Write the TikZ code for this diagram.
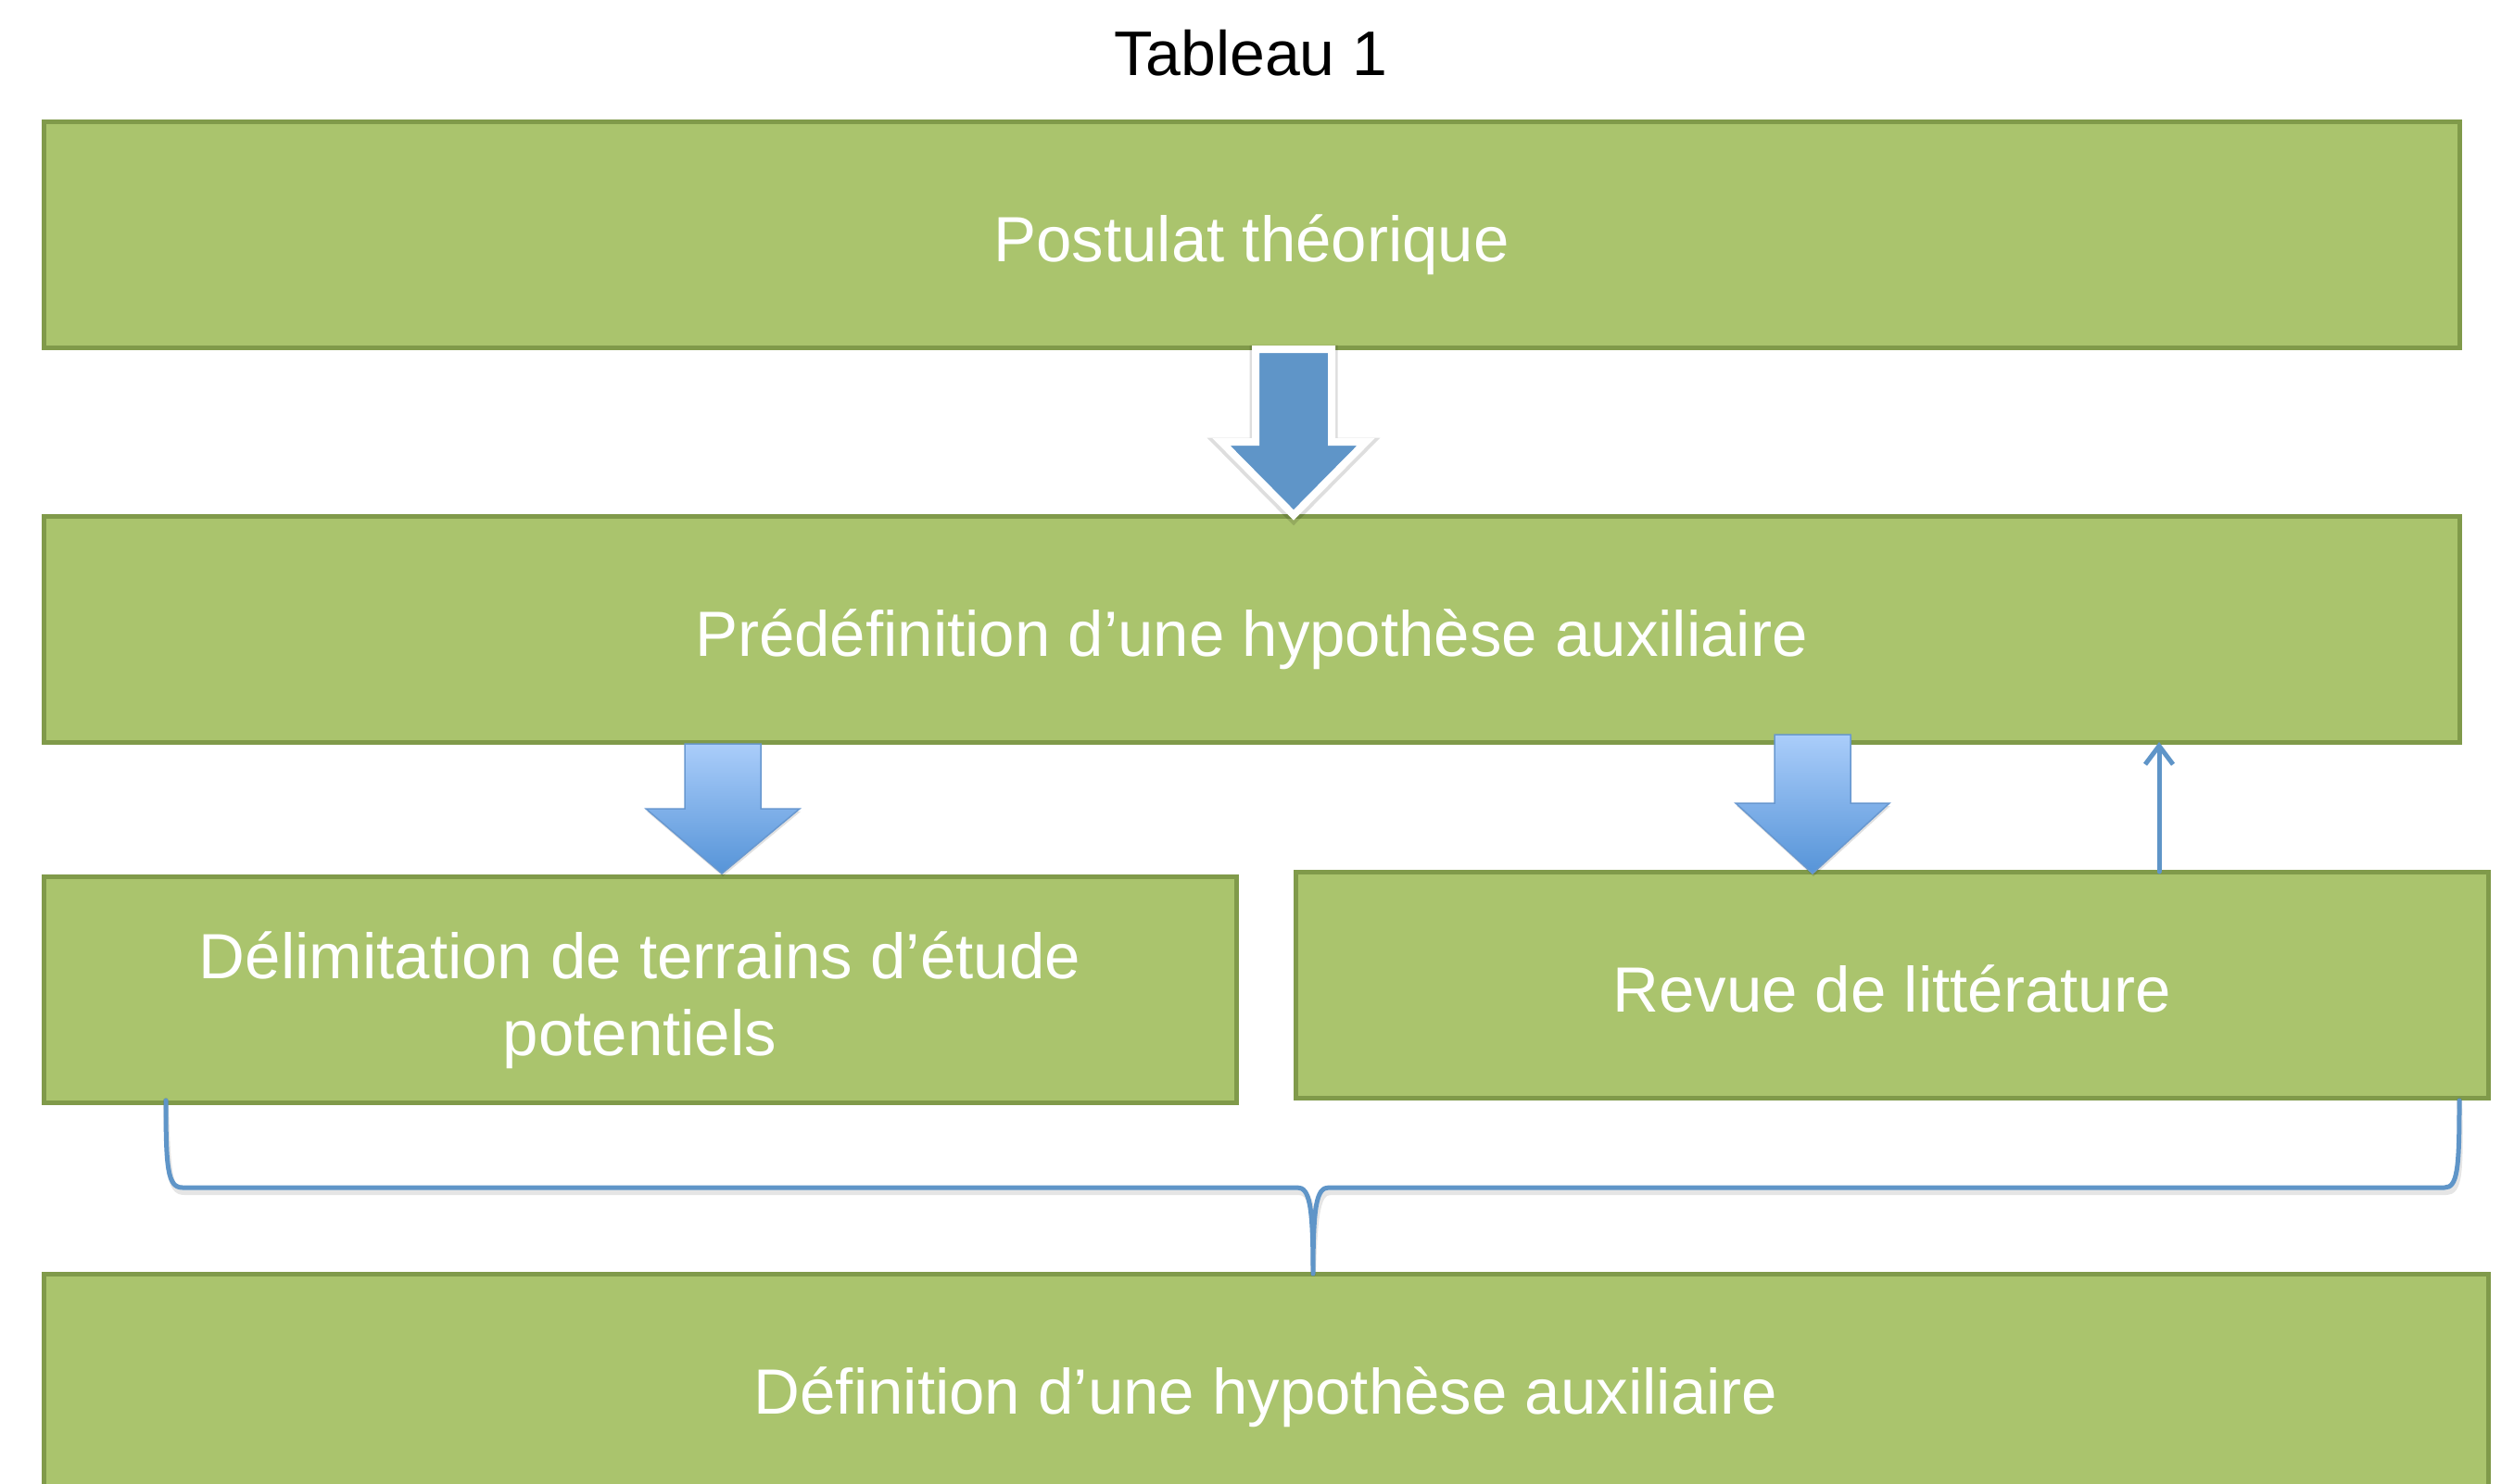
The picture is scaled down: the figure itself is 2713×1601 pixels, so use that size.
\documentclass[tikz,border=0pt]{standalone}
\usepackage{fontspec}
\setmainfont{Liberation Sans}
\usetikzlibrary{arrows.meta,shadows,calc}
\definecolor{boxfill}{RGB}{170,196,109}
\definecolor{boxline}{RGB}{128,154,74}
\definecolor{arrblue}{RGB}{95,149,200}
\definecolor{gradtop}{RGB}{170,205,250}
\definecolor{gradbot}{RGB}{86,148,216}
\definecolor{gradline}{RGB}{104,152,208}
\begin{document}
\begin{tikzpicture}[x=1pt,y=-1pt,
  greenbox/.style={draw=boxline, fill=boxfill, line width=5pt, text=white,
    font=\fontsize{69}{83}\selectfont, align=center, inner sep=0pt, outer sep=0pt,
    minimum height=244pt},
  oneline/.style={text height=58pt, text depth=0pt},
  bigarrow/.style={fill=arrblue, draw=white, line width=8pt, line join=miter},
  arrowglow/.style={draw=black, opacity=0.13, line width=13pt, line join=miter},
  gradarrow/.style={top color=gradtop, bottom color=gradbot, draw=gradline, line width=1.5pt,
    line join=miter},
  gradshadow/.style={fill=black, opacity=0.12},
  bluelink/.style={draw=arrblue, line width=5pt, line cap=round, line join=round},
  braceshadow/.style={draw=black, opacity=0.10, line width=6pt, line cap=round, line join=round},
  titletext/.style={font=\fontsize{68}{80}\selectfont, inner sep=0pt}
]
\useasboundingbox (0,0) rectangle (2713,1601);
\clip (0,0) rectangle (2713,1601);

\node[titletext] (title) at (1350,57) {Tableau 1};

\node[greenbox, oneline, minimum width=2607pt] (b1) at (1350.5,253) {Postulat théorique};
\node[greenbox, oneline, minimum width=2607pt] (b2) at (1350.5,679) {Prédéfinition d’une hypothèse auxiliaire};
\node[greenbox, minimum width=1287pt] (b3) at (690.5,1068) {\rule{0pt}{74pt}Délimitation de terrains d’étude\\potentiels};
\node[greenbox, oneline, minimum width=1287pt] (b4) at (2041.5,1063) {Revue de littérature};
\node[greenbox, oneline, minimum width=2638pt] (b5) at (1366,1497) {Définition d’une hypothèse auxiliaire};

% big block arrow b1 -> b2
\begin{scope}[yshift=-2pt]
\path[arrowglow] (1355,377) -- (1437,377) -- (1437,477) -- (1474,477) -- (1396,556)
  -- (1318,477) -- (1355,477) -- cycle;
\end{scope}
\path[bigarrow] (1355,377) -- (1437,377) -- (1437,477) -- (1474,477) -- (1396,556)
  -- (1318,477) -- (1355,477) -- cycle;

% gradient block arrows b2 -> b3, b2 -> b4
\begin{scope}[xshift=1pt, yshift=-3pt]
\path[gradshadow] (739,803) -- (821,803) -- (821,873) -- (863,873) -- (779,943)
  -- (697,873) -- (739,873) -- cycle;
\path[gradshadow] (1915,793) -- (1997,793) -- (1997,867) -- (2039,867) -- (1956,943)
  -- (1873,867) -- (1915,867) -- cycle;
\end{scope}
\path[gradarrow] (739,803) -- (821,803) -- (821,873) -- (863,873) -- (779,943)
  -- (697,873) -- (739,873) -- cycle;
\path[gradarrow] (1915,793) -- (1997,793) -- (1997,867) -- (2039,867) -- (1956,943)
  -- (1873,867) -- (1915,867) -- cycle;

% thin arrow b4 -> b2
\coordinate (ux) at (2330,0);
\draw[bluelink, -{Straight Barb[length=20pt,width=30pt,line width=5pt]}] (b4.north -| ux) -- (b2.south -| ux);

% brace b3,b4 -> b5
\coordinate (bl) at (179,1188);
\coordinate (br) at (2654,1188);
\coordinate (bm) at (1417,1375);
\begin{scope}[xshift=2pt, yshift=-5pt]
\draw[braceshadow]
  (bl) .. controls (179,1262) and (181,1282) .. (197,1282) -- (1400,1282)
  .. controls (1413,1282) and (1417,1300) .. (bm)
  .. controls (1417,1300) and (1421,1282) .. (1434,1282) -- (2638,1282)
  .. controls (2652,1282) and (2654,1262) .. (br);
\end{scope}
\draw[bluelink]
  (bl) .. controls (179,1262) and (181,1282) .. (197,1282) -- (1400,1282)
  .. controls (1413,1282) and (1417,1300) .. (bm)
  .. controls (1417,1300) and (1421,1282) .. (1434,1282) -- (2638,1282)
  .. controls (2652,1282) and (2654,1262) .. (br);
\end{tikzpicture}
\end{document}
